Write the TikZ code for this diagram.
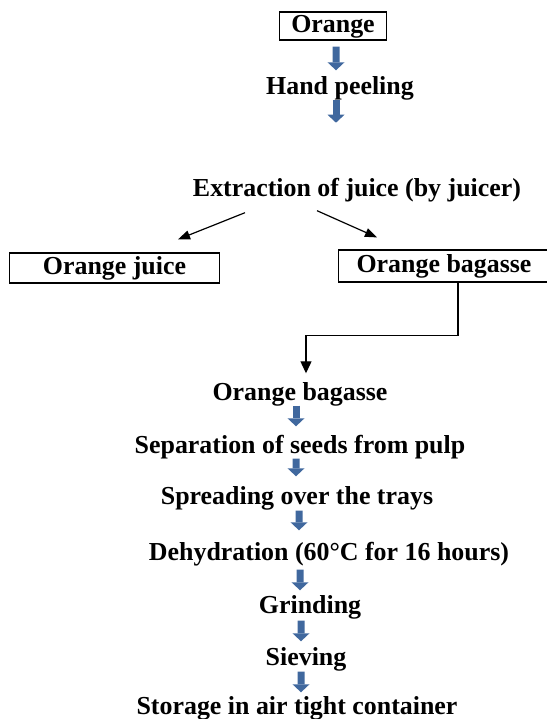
\documentclass[tikz,border=0pt]{standalone}
\usepackage{fontspec}
\setmainfont{Liberation Serif}
\usetikzlibrary{arrows.meta}
\usetikzlibrary{calc}

\definecolor{flowblue}{RGB}{64,104,158}

\begin{document}
\begin{tikzpicture}[x=1bp,y=-1bp,
  font=\fontsize{26}{31}\selectfont\bfseries,
  step text/.style={inner sep=0pt, text height=18bp, text depth=5bp},
  step box/.style={draw, line width=1.3bp, inner sep=0pt, text height=18bp, text depth=5bp},
  flow/.style={draw=flowblue, line width=7bp, -{Triangle[width=17bp,length=8bp,fill=flowblue,line width=0pt]}},
  split/.style={line width=1.2bp, -{Triangle[width=9bp,length=12bp]}}]
\useasboundingbox (0,0) rectangle (547,719);
\node[step box, minimum width=108, minimum height=28] (orange) at (333,26) {Orange};
\node[step text] (hand) at (340,88) {Hand peeling};
\node[step text] (extr) at (357,190) {Extraction of juice (by juicer)};
\node[step box, minimum width=211, minimum height=30] (juice) at (114.5,268) {Orange juice};
\node[step box, minimum width=212, minimum height=32] (bag1) at (444,266) {Orange bagasse};
\node[step text] (bag2) at (300,394) {Orange bagasse};
\node[step text] (sep) at (300,447) {Separation of seeds from pulp};
\node[step text] (spread) at (297,498) {Spreading over the trays};
\node[step text] (dehyd) at (329,554) {Dehydration (60°C for 16 hours)};
\node[step text] (grind) at (310,607) {Grinding};
\node[step text] (sieve) at (306,659) {Sieving};
\node[step text] (store) at (297,708) {Storage in air tight container};
\draw[flow, shorten <=6bp, shorten >=6bp] ([xshift=3bp]orange.south) -- ([xshift=-4bp]hand.north);
\draw[flow, shorten <=0bp] ([xshift=-4bp]hand.south) -- ++(0,23);
\draw[split] ($(extr.south)+(-112,11)$) -- ($(juice.north)+(63.5,-13)$);
\draw[split] ($(extr.south)+(-40,9)$) -- ($(bag1.north)+(-67,-12)$);
\draw[line width=1.2bp, shorten >=9bp, -{Triangle[width=11bp,length=12bp]}] ([xshift=14bp]bag1.south) -- ++(0,53) -| ([xshift=6bp]bag2.north);
\draw[flow, shorten >=9bp] ([xshift=-4bp]bag2.south) -- ([xshift=-4bp]sep.north);
\draw[flow, shorten >=10bp] ([xshift=-4bp]sep.south) -- ([xshift=-1bp]spread.north);
\draw[flow, shorten <=1bp, shorten >=12bp] ([xshift=2bp]spread.south) -- ([xshift=-30bp]dehyd.north);
\draw[flow, shorten <=4bp, shorten >=5bp] ([xshift=-29bp]dehyd.south) -- ([xshift=-10bp]grind.north);
\draw[flow, shorten <=2bp, shorten >=6bp] ([xshift=-9bp]grind.south) -- ([xshift=-5bp]sieve.north);
\draw[flow, shorten <=1bp, shorten >=4bp] ([xshift=-5bp]sieve.south) -- ([xshift=4bp]store.north);
\end{tikzpicture}
\end{document}
